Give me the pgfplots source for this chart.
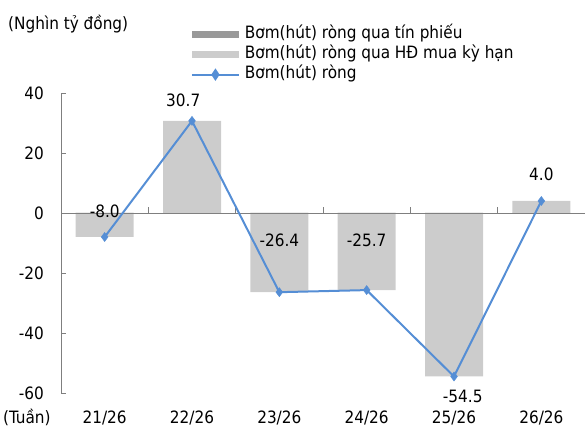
\documentclass[border=0pt]{standalone}
\usepackage{fontspec}
\setmainfont{DejaVu Sans Condensed}
\usepackage{pgfplots}
\pgfplotsset{compat=1.18}
\definecolor{lg}{HTML}{CCCCCC}
\definecolor{dg}{HTML}{999999}
\definecolor{bl}{HTML}{558ED5}
\definecolor{axc}{HTML}{7F7F7F}
\begin{document}
\fontsize{17}{20}\selectfont
\begin{tikzpicture}[x=1pt,y=1pt]
\useasboundingbox (0,0) rectangle (585,435);
\begin{axis}[
  at={(61pt,42pt)}, anchor=south west,
  scale only axis, width=524pt, height=300pt,
  xmin=-0.5, xmax=5.5, ymin=-60, ymax=40,
  clip=false,
  axis lines*=left,
  x axis line style={draw=none},
  y axis line style={draw=axc, line width=0.8pt},
  xtick={0,1,2,3,4,5},
  xticklabels={21/26,22/26,23/26,24/26,25/26,26/26},
  major x tick style={draw=none},
  xticklabel style={anchor=base, yshift=-31pt, inner sep=0pt},
  ytick={-60,-40,-20,0,20,40},
  tick align=inside,
  major tick length=5pt,
  major y tick style={draw=axc, line width=0.8pt},
  yticklabel style={anchor=east, inner sep=0pt, xshift=-17pt},
  /pgf/number format/assume math mode=true,
  tick label style={font=\fontsize{17}{20}\selectfont},
  legend cell align=left,
  legend style={draw=none, fill=none, inner sep=0pt, outer sep=0pt,
    at={(rel axis cs:0.248,1.222)}, anchor=north west,
    font=\fontsize{17}{20}\selectfont,
    row sep=3.5pt,
    nodes={inner sep=0pt, text height=12.5pt, text depth=4pt},
    /tikz/every odd column/.append style={column sep=5pt}},
]
\addplot[ybar, bar width=58pt, fill=dg, draw=none,
  legend image code/.code={\fill[dg] (0pt,-3.5pt) rectangle (47pt,3.5pt);}]
  coordinates {(0,0) (1,0) (2,0) (3,0) (4,0) (5,0)};
\addlegendentry{Bơm(hút) ròng qua tín phiếu}
\addplot[ybar, bar width=58pt, fill=lg, draw=none,
  legend image code/.code={\fill[lg] (0pt,-3.5pt) rectangle (47pt,3.5pt);}]
  coordinates {(0,-8.0) (1,30.7) (2,-26.4) (3,-25.7) (4,-54.5) (5,4.0)};
\addlegendentry{Bơm(hút) ròng qua HĐ mua kỳ hạn}
\draw[axc, line width=0.8pt] (axis cs:-0.5,0) -- (axis cs:5.5,0);
\draw[axc, line width=0.8pt] (axis cs:0.5,0) -- ++(0pt,6pt);
\draw[axc, line width=0.8pt] (axis cs:1.5,0) -- ++(0pt,6pt);
\draw[axc, line width=0.8pt] (axis cs:2.5,0) -- ++(0pt,6pt);
\draw[axc, line width=0.8pt] (axis cs:3.5,0) -- ++(0pt,6pt);
\draw[axc, line width=0.8pt] (axis cs:4.5,0) -- ++(0pt,6pt);
\draw[axc, line width=0.8pt] (axis cs:5.5,0) -- ++(0pt,6pt);
\addplot[bl, line width=2pt, mark=diamond*, mark size=4.5pt, mark options={fill=bl, line width=0.5pt},
  legend image code/.code={\draw[bl, line width=2pt] (0pt,0pt) -- (47pt,0pt);
    \fill[bl] (23.5pt,4.5pt) -- (20.5pt,0pt) -- (23.5pt,-4.5pt) -- (26.5pt,0pt) -- cycle;}]
  coordinates {(0,-8.0) (1,30.7) (2,-26.4) (3,-25.7) (4,-54.5) (5,4.0)};
\addlegendentry{Bơm(hút) ròng}
\node[inner sep=0pt] at (axis cs:0,0.7) {-8.0};
\node[inner sep=0pt] at (axis cs:0.9,37.7) {30.7};
\node[inner sep=0pt] at (axis cs:2,-9) {-26.4};
\node[inner sep=0pt] at (axis cs:3,-9) {-25.7};
\node[inner sep=0pt] at (axis cs:4.1,-61.3) {-54.5};
\node[inner sep=0pt] at (axis cs:5,13) {4.0};
\end{axis}
\node[anchor=west, inner sep=0pt] at (8,411) {(Nghìn tỷ đồng)};
\node[anchor=base west, inner sep=0pt] at (3,11) {(Tuần)};
\end{tikzpicture}
\end{document}
